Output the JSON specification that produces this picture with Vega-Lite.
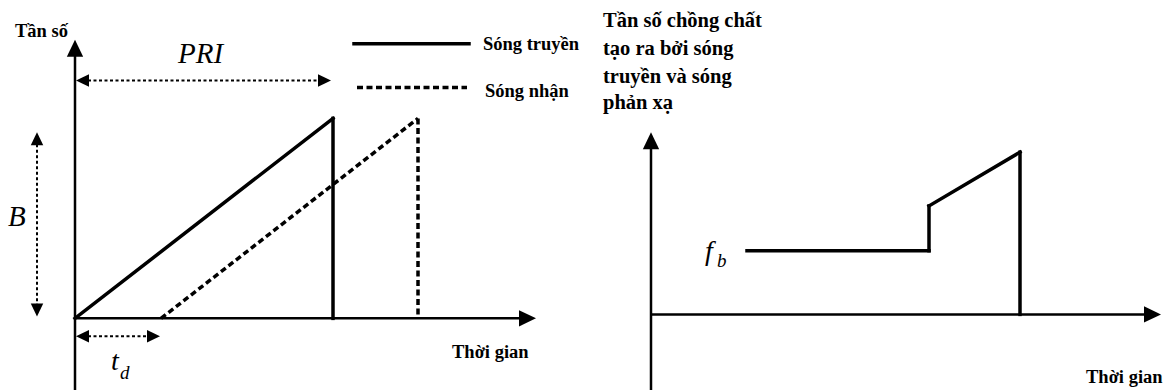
{
  "$schema": "https://vega.github.io/schema/vega-lite/v6.json",
  "width": 1169,
  "height": 392,
  "autosize": {"type": "fit", "contains": "padding"},
  "padding": 0,
  "background": "white",
  "config": {"view": {"stroke": null}},
  "datasets": {
    "segs": [
      {"kind": "axis", "x": 75, "y": 56, "x2": 75, "y2": 392},
      {"kind": "axis", "x": 75, "y": 320, "x2": 522, "y2": 320},
      {"kind": "axis", "x": 651, "y": 149, "x2": 651, "y2": 392},
      {"kind": "axis", "x": 651, "y": 316, "x2": 1146, "y2": 316},
      {"kind": "solid", "x": 75, "y": 320, "x2": 333, "y2": 119},
      {"kind": "solid", "x": 333, "y": 119, "x2": 333, "y2": 320},
      {"kind": "solid", "x": 354, "y": 44, "x2": 469, "y2": 44},
      {"kind": "solid", "x": 747, "y": 252, "x2": 929, "y2": 252},
      {"kind": "solid", "x": 929, "y": 252, "x2": 929, "y2": 207},
      {"kind": "solid", "x": 929, "y": 207, "x2": 1020, "y2": 153},
      {"kind": "solid", "x": 1020, "y": 153, "x2": 1020, "y2": 316},
      {"kind": "dashed", "x": 161, "y": 320, "x2": 418, "y2": 119},
      {"kind": "dashed", "x": 418, "y": 119, "x2": 418, "y2": 320},
      {"kind": "dashed", "x": 357, "y": 88, "x2": 467, "y2": 88},
      {"kind": "dim", "x": 88, "y": 81, "x2": 319, "y2": 81},
      {"kind": "dim", "x": 37, "y": 145, "x2": 37, "y2": 306},
      {"kind": "dim", "x": 88, "y": 338, "x2": 148, "y2": 338}
    ],
    "arrows": [
      {"kind": "axis", "dir": "up", "x": 75, "y": 40},
      {"kind": "axis", "dir": "right", "x": 536, "y": 320},
      {"kind": "axis", "dir": "up", "x": 651, "y": 133},
      {"kind": "axis", "dir": "right", "x": 1161, "y": 316},
      {"kind": "dim", "dir": "left", "x": 76, "y": 81},
      {"kind": "dim", "dir": "right", "x": 331, "y": 81},
      {"kind": "dim", "dir": "up", "x": 37, "y": 133},
      {"kind": "dim", "dir": "down", "x": 37, "y": 318},
      {"kind": "dim", "dir": "left", "x": 76, "y": 338},
      {"kind": "dim", "dir": "right", "x": 160, "y": 338}
    ],
    "texts": [
      {"group": "label", "text": "Tần số", "x": 15, "y": 37},
      {"group": "label", "text": "Sóng truyền", "x": 483, "y": 50},
      {"group": "label", "text": "Sóng nhận", "x": 485, "y": 97},
      {"group": "label", "text": "Thời gian", "x": 452, "y": 360},
      {"group": "label", "text": "Thời gian", "x": 1086, "y": 385},
      {"group": "title", "text": "Tần số chồng chất", "x": 603, "y": 27},
      {"group": "title", "text": "tạo ra bởi sóng", "x": 603, "y": 55},
      {"group": "title", "text": "truyền và sóng", "x": 603, "y": 83},
      {"group": "title", "text": "phản xạ", "x": 603, "y": 110},
      {"group": "sym", "text": "PRI", "x": 178, "y": 63},
      {"group": "sym", "text": "B", "x": 8, "y": 227},
      {"group": "symsmall", "text": "t", "x": 111, "y": 372},
      {"group": "symsmall", "text": "f", "x": 705, "y": 261},
      {"group": "sub", "text": "d", "x": 120, "y": 381},
      {"group": "sub", "text": "b", "x": 717, "y": 268}
    ]
  },
  "encoding": {
    "x": {"field": "x", "type": "quantitative", "scale": {"domain": [0, 1169], "nice": false, "zero": false}, "axis": null},
    "y": {"field": "y", "type": "quantitative", "scale": {"domain": [0, 392], "nice": false, "zero": false, "reverse": true}, "axis": null}
  },
  "layer": [
    {
      "data": {"name": "segs"},
      "transform": [{"filter": "datum.kind === 'axis'"}],
      "mark": {"type": "rule", "color": "black", "strokeWidth": 2.5},
      "encoding": {"x2": {"field": "x2"}, "y2": {"field": "y2"}}
    },
    {
      "data": {"name": "segs"},
      "transform": [{"filter": "datum.kind === 'solid'"}],
      "mark": {"type": "rule", "color": "black", "strokeWidth": 3.5, "strokeCap": "square"},
      "encoding": {"x2": {"field": "x2"}, "y2": {"field": "y2"}}
    },
    {
      "data": {"name": "segs"},
      "transform": [{"filter": "datum.kind === 'dashed'"}],
      "mark": {"type": "rule", "color": "black", "strokeWidth": 3.5, "strokeDash": [6, 3.5]},
      "encoding": {"x2": {"field": "x2"}, "y2": {"field": "y2"}}
    },
    {
      "data": {"name": "segs"},
      "transform": [{"filter": "datum.kind === 'dim'"}],
      "mark": {"type": "rule", "color": "black", "strokeWidth": 2, "strokeDash": [3, 2.5]},
      "encoding": {"x2": {"field": "x2"}, "y2": {"field": "y2"}}
    },
    {
      "data": {"name": "arrows"},
      "mark": {"type": "point", "filled": true, "color": "black", "opacity": 1, "strokeWidth": 0},
      "encoding": {
        "shape": {
          "field": "dir", "type": "nominal", "legend": null,
          "scale": {
            "domain": ["up", "down", "left", "right"],
            "range": ["M0,0L0.48,1L-0.48,1Z", "M0,0L0.48,-1L-0.48,-1Z", "M0,0L1,-0.48L1,0.48Z", "M0,0L-1,0.48L-1,-0.48Z"]
          }
        },
        "size": {
          "field": "kind", "type": "nominal", "legend": null,
          "scale": {"domain": ["axis", "dim"], "range": [1156, 676]}
        }
      }
    },
    {
      "data": {"name": "texts"},
      "transform": [{"filter": "datum.group === 'label'"}],
      "mark": {"type": "text", "font": "Times New Roman", "fontWeight": "bold", "fontSize": 18.5, "align": "left", "baseline": "alphabetic", "color": "black"},
      "encoding": {"text": {"field": "text"}}
    },
    {
      "data": {"name": "texts"},
      "transform": [{"filter": "datum.group === 'title'"}],
      "mark": {"type": "text", "font": "Times New Roman", "fontWeight": "bold", "fontSize": 20.5, "align": "left", "baseline": "alphabetic", "color": "black"},
      "encoding": {"text": {"field": "text"}}
    },
    {
      "data": {"name": "texts"},
      "transform": [{"filter": "datum.group === 'sym'"}],
      "mark": {"type": "text", "font": "Times New Roman", "fontStyle": "italic", "fontSize": 29, "align": "left", "baseline": "alphabetic", "color": "black"},
      "encoding": {"text": {"field": "text"}}
    },
    {
      "data": {"name": "texts"},
      "transform": [{"filter": "datum.group === 'symsmall'"}],
      "mark": {"type": "text", "font": "Times New Roman", "fontStyle": "italic", "fontSize": 28, "align": "left", "baseline": "alphabetic", "color": "black"},
      "encoding": {"text": {"field": "text"}}
    },
    {
      "data": {"name": "texts"},
      "transform": [{"filter": "datum.group === 'sub'"}],
      "mark": {"type": "text", "font": "Times New Roman", "fontStyle": "italic", "fontSize": 19, "align": "left", "baseline": "alphabetic", "color": "black"},
      "encoding": {"text": {"field": "text"}}
    }
  ]
}
